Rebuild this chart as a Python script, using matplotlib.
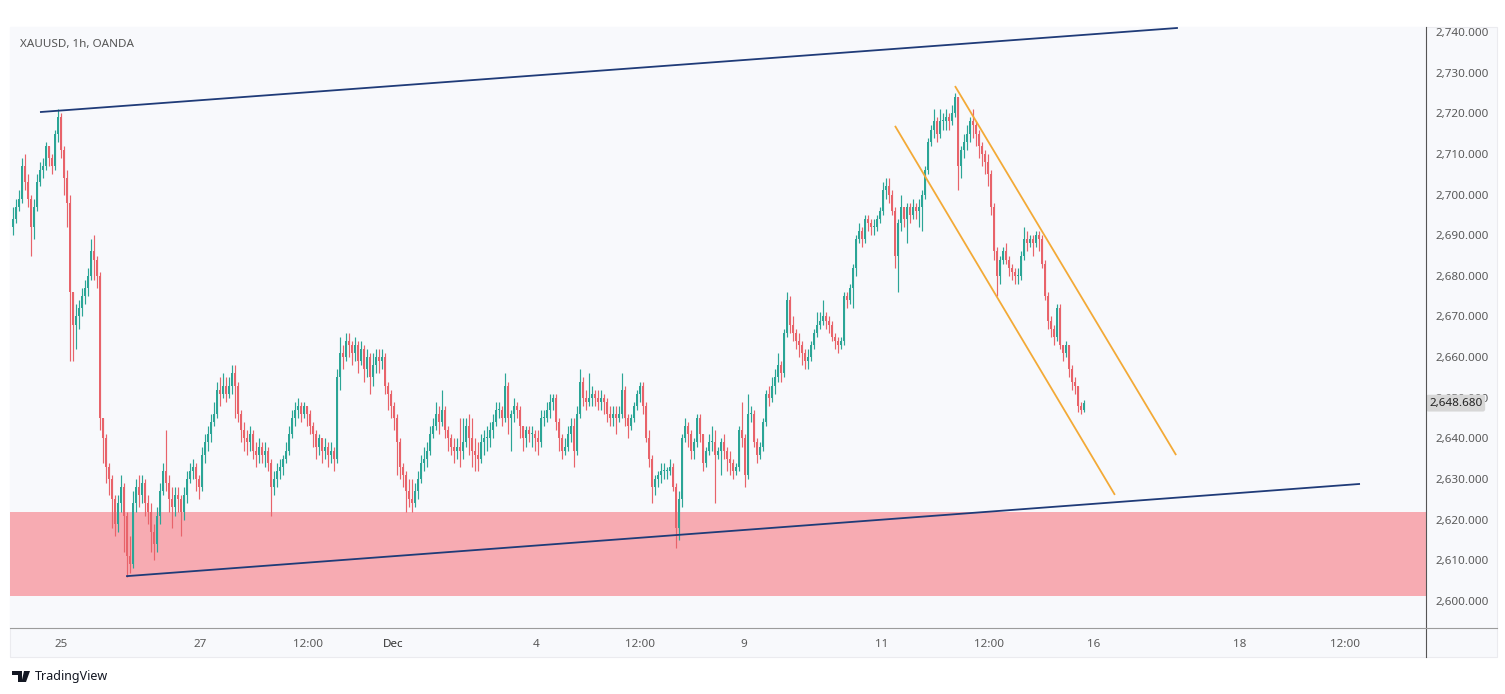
import matplotlib
matplotlib.use('Agg')
import matplotlib.pyplot as plt
from matplotlib.patches import Rectangle, Polygon
from matplotlib.lines import Line2D
import numpy as np

# ---------------- data ----------------
first_open = 2692
closes = [
2694, 2697, 2699, 2707, 2703, 2699, 2692, 2697, 2703, 2706,
2707, 2712, 2709, 2707, 2715, 2719, 2711, 2704, 2698, 2676,
2668, 2670, 2672, 2675, 2677, 2680, 2686, 2684, 2680, 2645,
2640, 2633, 2630, 2625, 2619, 2624, 2628, 2621, 2611, 2609,
2624, 2628, 2626, 2629, 2624, 2622, 2617, 2614, 2621, 2627,
2632, 2629, 2625, 2623, 2626, 2625, 2622, 2626, 2630, 2632,
2633, 2630, 2628, 2636, 2639, 2641, 2644, 2646, 2652, 2651,
2653, 2651, 2653, 2656, 2653, 2646, 2642, 2640, 2639, 2641,
2637, 2636, 2638, 2636, 2637, 2634, 2628, 2630, 2632, 2633,
2635, 2637, 2641, 2645, 2647, 2648, 2646, 2648, 2646, 2643,
2641, 2638, 2640, 2637, 2638, 2636, 2637, 2635, 2655, 2661,
2660, 2664, 2663, 2661, 2663, 2659, 2662, 2657, 2660, 2655,
2658, 2660, 2659, 2660, 2653, 2651, 2648, 2645, 2639, 2633,
2631, 2627, 2625, 2624, 2627, 2630, 2634, 2635, 2637, 2641,
2643, 2646, 2644, 2647, 2642, 2640, 2638, 2637, 2638, 2637,
2639, 2643, 2640, 2637, 2636, 2635, 2639, 2640, 2640, 2642,
2644, 2647, 2647, 2645, 2653, 2645, 2646, 2648, 2647, 2643,
2640, 2642, 2641, 2641, 2640, 2639, 2645, 2645, 2647, 2649,
2650, 2644, 2640, 2637, 2638, 2641, 2643, 2637, 2646, 2654,
2650, 2649, 2650, 2651, 2650, 2649, 2650, 2649, 2646, 2645,
2646, 2645, 2646, 2652, 2645, 2643, 2645, 2648, 2651, 2653,
2648, 2640, 2635, 2628, 2630, 2631, 2632, 2632, 2632, 2633,
2628, 2618, 2625, 2640, 2643, 2641, 2637, 2639, 2645, 2641,
2634, 2637, 2639, 2639, 2636, 2637, 2639, 2637, 2635, 2634,
2632, 2633, 2642, 2640, 2631, 2646, 2646, 2639, 2636, 2638,
2644, 2651, 2650, 2653, 2655, 2658, 2656, 2666, 2674, 2668,
2666, 2664, 2663, 2661, 2659, 2660, 2663, 2666, 2668, 2669,
2670, 2669, 2668, 2665, 2664, 2663, 2664, 2675, 2674, 2677,
2682, 2689, 2691, 2689, 2694, 2693, 2692, 2692, 2694, 2696,
2701, 2702, 2700, 2696, 2685, 2693, 2697, 2694, 2697, 2695,
2697, 2696, 2697, 2700, 2706, 2713, 2716, 2718, 2715, 2718,
2718, 2719, 2718, 2720, 2724, 2707, 2711, 2713, 2715, 2718,
2717, 2715, 2712, 2710, 2708, 2705, 2697, 2686, 2680, 2684,
2686, 2684, 2682, 2681, 2680, 2680, 2685, 2689, 2688, 2689,
2688, 2690, 2689, 2683, 2675, 2669, 2667, 2665, 2672, 2663,
2661, 2663, 2657, 2654, 2653, 2648, 2647, 2648.68,
]
highs = [
2697, 2699, 2701, 2709, 2710, 2705, 2700, 2699, 2705, 2708,
2709, 2713, 2712, 2710, 2716, 2721, 2720, 2712, 2706, 2700,
2674, 2673, 2674, 2677, 2679, 2682, 2689, 2690, 2685, 2681,
2645, 2641, 2634, 2631, 2626, 2626, 2631, 2629, 2622, 2616,
2627, 2630, 2631, 2631, 2630, 2626, 2624, 2619, 2623, 2629,
2634, 2642, 2631, 2628, 2628, 2628, 2626, 2628, 2632, 2634,
2635, 2634, 2631, 2638, 2641, 2643, 2646, 2649, 2654, 2655,
2656, 2655, 2655, 2658, 2658, 2654, 2647, 2644, 2642, 2643,
2642, 2639, 2640, 2639, 2639, 2638, 2635, 2632, 2634, 2635,
2636, 2639, 2643, 2647, 2649, 2650, 2649, 2649, 2648, 2647,
2644, 2642, 2641, 2640, 2640, 2639, 2639, 2638, 2657, 2665,
2663, 2666, 2666, 2664, 2665, 2664, 2664, 2663, 2662, 2661,
2661, 2662, 2662, 2662, 2661, 2654, 2652, 2649, 2646, 2640,
2634, 2632, 2630, 2630, 2629, 2632, 2636, 2638, 2639, 2643,
2645, 2649, 2648, 2652, 2648, 2643, 2641, 2640, 2640, 2645,
2645, 2645, 2646, 2645, 2640, 2639, 2641, 2642, 2643, 2644,
2646, 2649, 2649, 2648, 2656, 2654, 2647, 2650, 2649, 2648,
2643, 2643, 2643, 2643, 2642, 2642, 2647, 2647, 2649, 2651,
2651, 2651, 2645, 2641, 2640, 2643, 2645, 2645, 2648, 2657,
2655, 2652, 2656, 2653, 2652, 2652, 2652, 2651, 2650, 2648,
2648, 2648, 2648, 2656, 2653, 2646, 2646, 2649, 2652, 2654,
2654, 2649, 2642, 2636, 2631, 2632, 2634, 2634, 2633, 2635,
2634, 2629, 2627, 2641, 2645, 2644, 2642, 2640, 2646, 2646,
2641, 2638, 2641, 2643, 2642, 2638, 2640, 2641, 2638, 2637,
2635, 2634, 2643, 2649, 2641, 2651, 2648, 2647, 2640, 2639,
2645, 2652, 2653, 2655, 2657, 2661, 2659, 2667, 2676, 2675,
2670, 2667, 2666, 2664, 2662, 2662, 2664, 2667, 2671, 2671,
2674, 2671, 2670, 2669, 2666, 2665, 2665, 2676, 2676, 2678,
2683, 2690, 2693, 2692, 2695, 2695, 2694, 2694, 2695, 2697,
2703, 2704, 2704, 2701, 2697, 2694, 2700, 2697, 2698, 2698,
2699, 2698, 2699, 2701, 2707, 2714, 2717, 2721, 2719, 2721,
2720, 2721, 2720, 2722, 2725, 2724, 2712, 2715, 2717, 2719,
2721, 2718, 2716, 2713, 2711, 2710, 2706, 2698, 2687, 2685,
2687, 2688, 2685, 2683, 2682, 2682, 2686, 2692, 2691, 2690,
2690, 2691, 2691, 2690, 2684, 2676, 2670, 2668, 2673, 2673,
2663, 2664, 2663, 2658, 2655, 2653, 2649, 2649.5,
]
lows = [
2690, 2693, 2696, 2698, 2701, 2697, 2685, 2689, 2696, 2702,
2704, 2706, 2707, 2705, 2706, 2713, 2709, 2700, 2692, 2659,
2659, 2662, 2667, 2670, 2673, 2675, 2679, 2679, 2677, 2642,
2634, 2629, 2626, 2618, 2616, 2617, 2622, 2612, 2606, 2607,
2608, 2622, 2623, 2624, 2621, 2619, 2612, 2610, 2612, 2619,
2626, 2627, 2622, 2618, 2621, 2622, 2616, 2620, 2624, 2629,
2630, 2627, 2625, 2627, 2634, 2637, 2639, 2643, 2645, 2648,
2650, 2649, 2650, 2651, 2645, 2644, 2639, 2637, 2636, 2637,
2635, 2633, 2634, 2634, 2633, 2632, 2621, 2626, 2628, 2630,
2631, 2634, 2636, 2640, 2643, 2645, 2644, 2645, 2643, 2641,
2638, 2635, 2636, 2634, 2635, 2633, 2634, 2632, 2634, 2652,
2657, 2659, 2660, 2658, 2659, 2656, 2658, 2654, 2655, 2651,
2653, 2656, 2656, 2657, 2651, 2647, 2645, 2642, 2631, 2630,
2628, 2622, 2623, 2622, 2623, 2625, 2629, 2632, 2633, 2636,
2640, 2642, 2641, 2643, 2640, 2637, 2636, 2634, 2635, 2633,
2635, 2638, 2636, 2633, 2632, 2632, 2634, 2636, 2637, 2638,
2640, 2643, 2645, 2643, 2644, 2641, 2637, 2644, 2645, 2640,
2637, 2638, 2639, 2638, 2637, 2636, 2638, 2643, 2644, 2645,
2647, 2642, 2637, 2635, 2636, 2637, 2639, 2633, 2636, 2645,
2648, 2647, 2648, 2648, 2648, 2647, 2647, 2646, 2644, 2643,
2643, 2641, 2644, 2645, 2643, 2640, 2642, 2644, 2647, 2649,
2646, 2639, 2633, 2624, 2626, 2628, 2629, 2630, 2630, 2631,
2627, 2613, 2615, 2623, 2639, 2638, 2635, 2635, 2638, 2639,
2632, 2633, 2636, 2637, 2624, 2635, 2631, 2635, 2632, 2631,
2630, 2631, 2632, 2638, 2628, 2630, 2644, 2638, 2634, 2635,
2637, 2643, 2648, 2649, 2651, 2654, 2654, 2655, 2665, 2666,
2664, 2662, 2660, 2658, 2657, 2657, 2659, 2662, 2665, 2667,
2668, 2667, 2666, 2664, 2662, 2661, 2662, 2663, 2672, 2673,
2672, 2680, 2688, 2687, 2688, 2691, 2690, 2690, 2691, 2693,
2695, 2699, 2698, 2695, 2682, 2676, 2691, 2692, 2688, 2693,
2694, 2694, 2692, 2691, 2699, 2705, 2712, 2714, 2713, 2714,
2716, 2716, 2716, 2717, 2719, 2701, 2704, 2709, 2711, 2713,
2714, 2712, 2709, 2707, 2705, 2702, 2695, 2684, 2675, 2678,
2683, 2683, 2680, 2679, 2678, 2678, 2679, 2684, 2686, 2687,
2685, 2687, 2686, 2682, 2674, 2667, 2665, 2663, 2664, 2662,
2659, 2660, 2655, 2652, 2651, 2646.5, 2646, 2646.5,
]

# time-axis labels (bar index where each label sits)
xtick_labels = ["25", "27", "12:00", "Dec", "4", "12:00", "9", "11", "12:00", "16", "18", "12:00"]
xtick_pos = [16.0, 62.3, 98.3, 126.7, 174.3, 209.0, 243.7, 289.7, 325.3, 360.3, 409.0, 444.0]
price_ticks = list(range(2600, 2741, 10))

# drawings: (bar index, price) endpoints
channel_upper = [(9.0, 2720.3), (388.3, 2741.0)]
channel_lower = [(37.7, 2606.1), (449.0, 2628.8)]
down_upper = [(314.0, 2726.7), (387.7, 2635.9)]
down_lower = [(294.0, 2716.9), (367.3, 2626.1)]
zone = (2601.2, 2621.8)
last_price = 2648.68
title = "XAUUSD, 1h, OANDA"

# ---------------- figure ----------------
W, H = 1505, 694
fig = plt.figure(figsize=(W / 100, H / 100), dpi=100)
fig.patch.set_facecolor('white')

def fx(px):
    return px / W

def fy(py):
    return 1 - py / H

BG = '#f8f9fc'
fig.add_artist(Rectangle((fx(10), fy(657)), fx(1497) - fx(10), fy(27) - fy(657),
                         transform=fig.transFigure, facecolor=BG, edgecolor='#ebebef',
                         lw=0.8, zorder=0))

ax = fig.add_axes([fx(10), fy(628), fx(1426) - fx(10), fy(27) - fy(628)])
ax.set_facecolor(BG)
for s in ax.spines.values():
    s.set_visible(False)

UP = '#2ba596'
DN = '#e8636a'

c = np.array(closes, dtype=float)
h = np.array(highs, dtype=float)
l = np.array(lows, dtype=float)
o = np.concatenate([[first_open], c[:-1]])
h = np.maximum(h, np.maximum(o, c))
l = np.minimum(l, np.minimum(o, c))
x = np.arange(len(c))
col = np.where(c >= o, UP, DN)

ax.vlines(x, l, h, colors=col, lw=0.85, zorder=3)
body_bot = np.minimum(o, c)
body_h = np.maximum(np.abs(c - o), 0.3)
ax.bar(x, body_h, bottom=body_bot, width=0.7, color=col, lw=0, zorder=4)

ax.axhspan(zone[0], zone[1], color='#f7abb2', lw=0, zorder=1)

NAVY = '#1f3b78'
ORANGE = '#f3aa37'
for seg, colr in [(channel_upper, NAVY), (channel_lower, NAVY), (down_upper, ORANGE), (down_lower, ORANGE)]:
    xs = [p[0] for p in seg]
    ys = [p[1] for p in seg]
    ax.plot(xs, ys, color=colr, lw=1.3, zorder=5, solid_capstyle='butt')

ax.set_xlim(-1, 471)
ax.set_ylim(2593.35, 2741.23)

ax.yaxis.tick_right()
ax.set_yticks(price_ticks)
ax.set_yticklabels([f"{v:,.3f}" for v in price_ticks])
ax.tick_params(axis='y', length=0, pad=7, labelsize=8.4, labelcolor='#5a5a5a')
ax.set_xticks(xtick_pos)
ax.set_xticklabels(xtick_labels)
ax.tick_params(axis='x', length=0, pad=8, labelsize=8.4, labelcolor='#5a5a5a')
for t in ax.get_xticklabels():
    t.set_fontfamily('Noto Sans')
    if t.get_text() == 'Dec':
        t.set_fontweight('bold')
        t.set_color('#333333')
for t in ax.get_yticklabels():
    t.set_fontfamily('Noto Sans')

# axis separator lines
fig.add_artist(Line2D([fx(1426), fx(1426)], [fy(27), fy(657)], transform=fig.transFigure,
                      color='#555555', lw=0.8, zorder=6))
fig.add_artist(Line2D([fx(10), fx(1497)], [fy(628), fy(628)], transform=fig.transFigure,
                      color='#9c9c9c', lw=0.8, zorder=6))

# last price label
ax.text(1.0 + 3 / (1426 - 10), last_price, f"{last_price:,.3f}", transform=ax.get_yaxis_transform(),
        ha='left', va='center', fontsize=8.4, color='#222222', family='Noto Sans', zorder=10,
        bbox=dict(boxstyle='round,pad=0.25,rounding_size=0.2', fc='#d7d7d7', ec='none'),
        clip_on=False)

# title
fig.text(fx(20), fy(44), title, ha='left', va='center', fontsize=8.4, color='#555555', family='Noto Sans')

# TradingView logo
def P(px, py):
    return (fx(px), fy(py))

fig.add_artist(Polygon([P(12, 671), P(22, 671), P(22, 682), P(18, 682), P(18, 675), P(12, 675)],
                       closed=True, transform=fig.transFigure, fc='#131722', ec='none'))
fig.add_artist(Polygon([P(24, 671), P(30, 671), P(26, 682), P(21.5, 682)],
                       closed=True, transform=fig.transFigure, fc='#131722', ec='none'))
fig.text(fx(35), fy(676.5), "TradingView", ha='left', va='center', fontsize=9, color='#131722',
         family='Noto Sans')

fig.savefig('out.png', dpi=100, facecolor='white')
